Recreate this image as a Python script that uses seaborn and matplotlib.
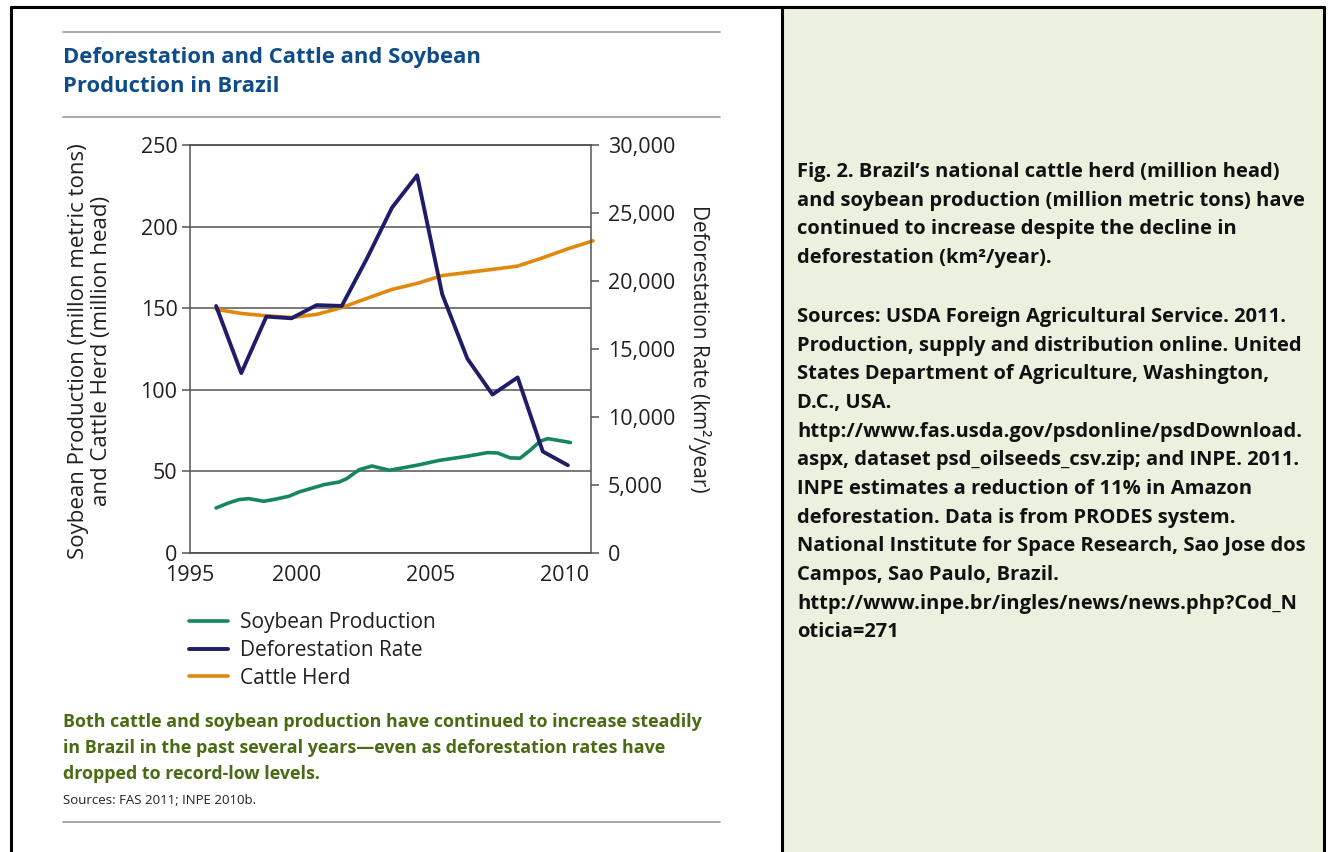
import matplotlib
matplotlib.use("Agg")
import matplotlib.pyplot as plt
import seaborn as sns
from matplotlib.patches import Rectangle
from matplotlib.lines import Line2D

# ---- data ----
defor_years = list(range(1996, 2011))
defor_rate = [18161, 13227, 17383, 17259, 18226, 18165, 21651, 25396,
              27772, 19014, 14286, 11651, 12911, 7464, 6451]

cattle_years = list(range(1996, 2012))
cattle_herd = [149.3, 146.8, 145.3, 144.3, 146.2, 150.4, 156.0, 161.5,
               165.2, 170.0, 171.9, 173.8, 175.8, 180.9, 186.4, 191.3]

soy_years = [1996.0, 1996.5, 1996.9, 1997.3, 1997.9, 1998.4, 1998.9, 1999.3,
             2000.3, 2000.9, 2001.2, 2001.7, 2002.2, 2002.9, 2004.0, 2004.9,
             2006.0, 2006.8, 2007.2, 2007.7, 2008.1, 2008.5, 2008.9, 2009.2,
             2010.1]
soy_prod = [27.6, 30.7, 32.7, 33.3, 31.7, 33.1, 34.8, 37.4,
            41.9, 43.5, 45.6, 51.1, 53.3, 50.7, 53.8, 56.8,
            59.3, 61.5, 61.3, 58.3, 58.1, 63.0, 68.5, 70.1,
            67.7]

x_labels = ["1995", "2000", "2005", "2010"]
left_ticks = [0, 50, 100, 150, 200, 250]
right_ticks = [0, 5000, 10000, 15000, 20000, 25000, 30000]
series_names = ["Soybean Production", "Deforestation Rate", "Cattle Herd"]

title_lines = ["Deforestation and Cattle and Soybean", "Production in Brazil"]
caption_lines = ["Both cattle and soybean production have continued to increase steadily",
                 "in Brazil in the past several years\u2014even as deforestation rates have",
                 "dropped to record-low levels."]
sources_short = "Sources: FAS 2011; INPE 2010b."
note_para1 = ["Fig. 2. Brazil\u2019s national cattle herd (million head)",
              "and soybean production (million metric tons) have",
              "continued to increase despite the decline in",
              "deforestation (km\u00b2/year)."]
note_para2 = ["Sources: USDA Foreign Agricultural Service. 2011.",
              "Production, supply and distribution online. United",
              "States Department of Agriculture, Washington,",
              "D.C., USA.",
              "http://www.fas.usda.gov/psdonline/psdDownload.",
              "aspx, dataset psd_oilseeds_csv.zip; and INPE. 2011.",
              "INPE estimates a reduction of 11% in Amazon",
              "deforestation. Data is from PRODES system.",
              "National Institute for Space Research, Sao Jose dos",
              "Campos, Sao Paulo, Brazil.",
              "http://www.inpe.br/ingles/news/news.php?Cod_N",
              "oticia=271"]

# ---- style ----
GREEN = "#16875a"
NAVY = "#201d68"
ORANGE = "#e0890f"
TXT = "#231f20"
GRID = "#555555"

sns.set_theme(style="white")
plt.rcParams["font.family"] = ["Open Sans", "DejaVu Sans"]
narrow = ["Open Sans", "DejaVu Sans"]
calib = ["Open Sans", "DejaVu Sans"]

W, H = 1328, 852
fig = plt.figure(figsize=(W / 100, H / 100), dpi=100)


def fx(px):
    return px / W


def fy(py):
    return 1 - py / H


# frame, right panel, divider
fig.patches.append(Rectangle((fx(783), 0), fx(1323 - 783), fy(8), transform=fig.transFigure,
                             facecolor="#ebf1de", edgecolor="none", zorder=0))
for xs, ys in [([11, 11], [7, 852]), ([11, 1324], [7, 7]), ([1324, 1324], [7, 852]),
               ([782, 782], [7, 852])]:
    fig.add_artist(Line2D([fx(v) for v in xs], [fy(v) for v in ys], color="black", lw=2.2))

# grey rules
for yy in [32, 117, 822]:
    fig.add_artist(Line2D([fx(63), fx(720)], [fy(yy), fy(yy)], color="#999999", lw=1.2))

# title
for i, line in enumerate(title_lines):
    fig.text(fx(63), fy(57 + 30 * i), line, family=narrow, fontsize=15.8, fontweight="bold",
             color="#0f4c8a", ha="left", va="center")

# ---- chart ----
ax = fig.add_axes([fx(190), fy(553), fx(591 - 190), (553 - 145) / H])
ax2 = ax.twinx()

sns.lineplot(x=soy_years, y=soy_prod, ax=ax, color=GREEN, linewidth=2.6, sort=False)
sns.lineplot(x=cattle_years, y=cattle_herd, ax=ax, color=ORANGE, linewidth=2.6,
             sort=False, clip_on=False)
sns.lineplot(x=defor_years, y=defor_rate, ax=ax2, color=NAVY, linewidth=2.8, sort=False)

ax.set_xlim(1994.96, 2010.92)
ax.set_ylim(0, 250)
ax2.set_ylim(0, 30000)

ax.set_xticks([1994.96, 1999.21, 2004.54, 2009.88])
ax.set_xticklabels(x_labels)
ax.set_yticks(left_ticks)
ax.set_yticklabels([str(v) for v in left_ticks])
ax2.set_yticks(right_ticks)
ax2.set_yticklabels([f"{v:,}" for v in right_ticks])

ax.set_axisbelow(True)
ax.grid(axis="y", color=GRID, lw=1.1)
ax.grid(axis="x", visible=False)
ax2.grid(False)

for a in (ax, ax2):
    for s in a.spines.values():
        s.set_color(GRID)
        s.set_linewidth(1.1)
    a.set_xlabel("")
    a.set_ylabel("")
ax.spines["right"].set_visible(False)
ax2.spines["left"].set_visible(False)
ax.tick_params(axis="both", direction="out", length=6, width=1.1, color=GRID,
               labelsize=15.5, labelcolor=TXT, pad=3)
ax.tick_params(axis="x", pad=2.5)
ax2.tick_params(axis="y", direction="out", length=6, width=1.1, color=GRID,
                labelsize=15.5, labelcolor=TXT, pad=6)

# axis labels
fig.text(fx(90), fy(351), "Soybean Production (millon metric tons)\nand Cattle Herd (million head)",
         rotation=90, ha="center", va="center", fontsize=16, color=TXT, linespacing=1.1)
fig.text(fx(700), fy(349), "Deforestation Rate (km\u00b2/year)", rotation=270,
         ha="center", va="center", fontsize=15, color=TXT)

# legend
handles = [ax.lines[0], ax2.lines[0], ax.lines[1]]
fig.legend(handles, series_names, loc="upper left", bbox_to_anchor=(fx(189), fy(612)),
           bbox_transform=fig.transFigure, frameon=False, fontsize=15,
           handlelength=1.85, handletextpad=0.6, labelspacing=0.33,
           borderpad=0, borderaxespad=0, labelcolor=TXT)

# caption and sources
for i, line in enumerate(caption_lines):
    fig.text(fx(63), fy(722 + 26 * i), line, family=narrow, fontsize=12.9, fontweight="bold",
             color="#4a6a14", ha="left", va="center")
fig.text(fx(63), fy(800), sources_short, family=narrow, fontsize=9.5, color=TXT,
         ha="left", va="center")

# right panel note
for i, line in enumerate(note_para1):
    fig.text(fx(797), fy(172 + 28.65 * i), line, family=calib, fontsize=14.5,
             fontweight="bold", color="#111111", ha="left", va="center")
for i, line in enumerate(note_para2):
    fig.text(fx(797), fy(317 + 28.65 * i), line, family=calib, fontsize=14.5,
             fontweight="bold", color="#111111", ha="left", va="center")

fig.savefig("out.png", dpi=100)
